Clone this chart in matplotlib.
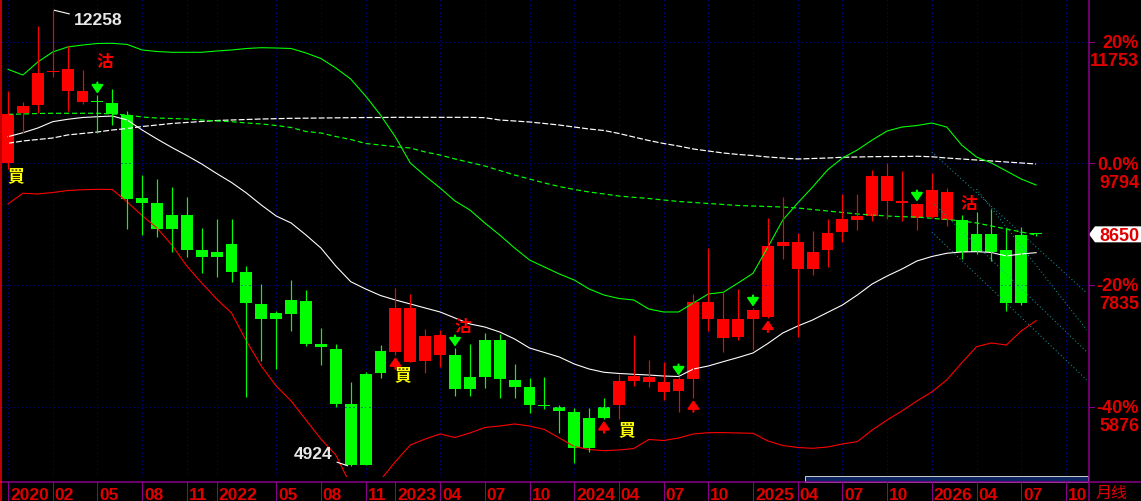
import numpy as np
import matplotlib
matplotlib.use('Agg')
import matplotlib.pyplot as plt
import matplotlib.transforms as mtransforms
from matplotlib.patches import Polygon, Rectangle
from matplotlib.lines import Line2D

# monthly bars, index 0 = 2020-11
opens = [9799, 10604, 10732, 11256, 10963, 10786, 10781, 10765, 10571, 9235,
         9155, 8961, 8961, 8398, 8371, 8495, 8039, 7529, 7389, 7593,
         7577, 6885, 6804, 5919, 6402, 6772, 6761, 6600, 6616, 6707,
         6707, 6353, 6949, 6949, 6305, 6192, 5902, 5870, 5790, 5693,
         5870, 5902, 6294, 6278, 6117, 6133, 6321, 7287, 6986, 7002,
         7282, 7324, 8467, 8097, 8097, 8403, 8693, 8881, 8950, 9187,
         9150, 8918, 8924, 8881, 8881, 8656, 8656, 8398, 8639, 8650]
highs = [10958, 10781, 12004, 12258, 11682, 11296, 10893, 10990, 10636, 9605,
         9541, 9412, 9251, 8752, 8897, 8897, 8140, 7851, 7416, 7915,
         7754, 7137, 6885, 6273, 6434, 6868, 7791, 7690, 7121, 7110,
         6820, 6885, 7057, 7046, 6563, 6342, 6358, 5902, 5849, 5859,
         6020, 6402, 7030, 6627, 6600, 6353, 7690, 8425, 7717, 7770,
         7464, 8913, 9251, 8667, 8704, 8892, 9304, 9304, 9686, 9794,
         9670, 9155, 9633, 9391, 8961, 9015, 9063, 8747, 8763, 8670]
lows = [9702, 10282, 10604, 11183, 10641, 10753, 10286, 10410, 8736, 8639,
        8600, 8366, 8285, 8032, 7963, 7888, 6036, 6616, 6477, 7099,
        6852, 6546, 5865, 4924, 4930, 6342, 6707, 6590, 6422, 6519,
        6047, 6047, 6181, 6010, 6010, 5778, 5833, 5457, 4964, 5151,
        5680, 5677, 6208, 6197, 5983, 5795, 6015, 7094, 6756, 6949,
        6788, 7300, 8248, 7002, 7995, 8129, 8532, 8720, 8865, 8902,
        8865, 8720, 8913, 8784, 8248, 8334, 8221, 7416, 7512, 8630]
closes = [10588, 10716, 11248, 11280, 11307, 10958, 10773, 10583, 9219, 9155,
          8736, 8736, 8398, 8280, 8280, 8049, 7540, 7287, 7287, 7372,
          6885, 6831, 5923, 4936, 4936, 6422, 7469, 7469, 7018, 7030,
          6155, 6155, 6358, 6326, 6197, 5907, 5880, 5811, 5215, 5215,
          5693, 6289, 6369, 6353, 6273, 6321, 7561, 7561, 7287, 7287,
          7432, 8462, 8527, 8527, 8366, 8672, 8897, 8950, 9589, 9589,
          9187, 9139, 9364, 9337, 8366, 8366, 8366, 7549, 7549, 8650]

# bollinger bands
upper = [11307, 11215, 11425, 11586, 11666, 11698, 11723, 11726, 11707, 11618,
         11594, 11581, 11581, 11581, 11602, 11618, 11642, 11655, 11650, 11642,
         11570, 11481, 11328, 11151, 10877, 10571, 10217, 9799, 9589, 9396,
         9187, 9042, 8833, 8639, 8430, 8237, 8124, 8012, 7915, 7770,
         7673, 7617, 7593, 7448, 7400, 7400, 7545, 7690, 7717, 7867,
         8023, 8446, 8881, 9155, 9412, 9686, 9879, 10008, 10169, 10314,
         10378, 10402, 10443, 10378, 10088, 9895, 9799, 9670, 9541, 9444]
mid = [10222, 10286, 10362, 10464, 10502, 10531, 10544, 10555, 10491, 10330,
       10185, 10048, 9919, 9783, 9630, 9485, 9316, 9122, 8945, 8833,
       8639, 8430, 8140, 7888, 7770, 7665, 7593, 7529, 7464, 7400,
       7303, 7207, 7158, 7078, 6965, 6820, 6748, 6675, 6563, 6482,
       6429, 6410, 6397, 6385, 6369, 6361, 6482, 6530, 6600, 6667,
       6740, 6893, 7062, 7174, 7271, 7392, 7512, 7673, 7851, 7979,
       8092, 8221, 8293, 8345, 8366, 8371, 8358, 8301, 8334, 8355]
lower = [9139, 9311, 9300, 9324, 9356, 9369, 9375, 9372, 9171, 8953,
         8752, 8478, 8140, 7867, 7609, 7384, 6933, 6530, 6208, 5967,
         5661, 5355, 5097, 4614, 4453, 4695, 4990, 5258, 5355, 5436,
         5379, 5452, 5540, 5564, 5597, 5564, 5508, 5371, 5234, 5186,
         5167, 5178, 5202, 5347, 5331, 5371, 5436, 5457, 5457, 5452,
         5447, 5323, 5250, 5218, 5205, 5226, 5275, 5312, 5500, 5661,
         5806, 5967, 6112, 6305, 6579, 6841, 6901, 6868, 7094, 7260]
# moving averages
ma_long = [10116, 10153, 10177, 10201, 10250, 10274, 10298, 10330, 10354, 10386,
           10410, 10435, 10451, 10467, 10483, 10491, 10499, 10507, 10512, 10518,
           10520, 10523, 10526, 10528, 10531, 10531, 10534, 10534, 10534, 10534,
           10534, 10534, 10528, 10491, 10475, 10459, 10435, 10410, 10378, 10346,
           10322, 10274, 10217, 10161, 10113, 10072, 10024, 9992, 9960, 9936,
           9919, 9895, 9879, 9863, 9871, 9879, 9891, 9895, 9900, 9903,
           9903, 9907, 9899, 9879, 9863, 9847, 9831, 9815, 9799, 9783]
ma_mid = [10583, 10588, 10596, 10599, 10599, 10599, 10599, 10588, 10571, 10539,
          10523, 10515, 10507, 10491, 10475, 10464, 10443, 10427, 10402, 10370,
          10306, 10282, 10225, 10177, 10113, 10088, 10061, 10040, 9976, 9927,
          9863, 9807, 9750, 9678, 9605, 9541, 9477, 9420, 9372, 9332,
          9300, 9267, 9246, 9227, 9203, 9179, 9163, 9147, 9131, 9114,
          9106, 9098, 9090, 9074, 9050, 9026, 9002, 8978, 8961, 8945,
          8934, 8929, 8908, 8889, 8865, 8833, 8784, 8736, 8688, 8639]

# trend channel lines (start idx, start price, end idx, end price)
channel = [(62.0, 9976, 72.4, 7706), (65.0, 9380, 72.4, 7110),
           (62.0, 9171, 72.4, 6756), (62.0, 8688, 72.4, 6305)]

sell_arrows = [6, 30, 45, 50, 61]
buy_arrows = [26, 40, 46, 51]
buy_labels = [(0.5, 9589), (26.5, 6377), (41.5, 5492)]
sell_labels = [(6.5, 11425), (30.5, 7166), (64.5, 9131)]

tick_idx = [0, 3, 6, 9, 12, 14, 18, 21, 24, 26, 29, 32, 35, 38, 41, 44, 47,
            50, 53, 56, 59, 62, 65, 68, 71]
tick_lab = ['2020', '02', '05', '08', '11', '2022', '05', '08', '11', '2023',
            '04', '07', '10', '2024', '04', '07', '10', '2025', '04', '07', '10',
            '2026', '04', '07', '10']
level_pct = ['20%', '0.0%', '-20%', '-40%']
level_price = [11753, 9794, 7835, 5876]
last_price = 8650
hi_mark, lo_mark = 12258, 4924

plt.rcParams['font.family'] = ['Liberation Sans', 'Noto Sans CJK TC', 'DejaVu Sans']
plt.rcParams['lines.scale_dashes'] = False

W, H = 1141, 501
def pt(p):
    return p * 0.72

RED = '#FF0000'
GREEN = '#00FF00'
TXT = '#E00000'
PURPLE = '#8B008B'
GRID = '#0000B4'

fig = plt.figure(figsize=(W / 100, H / 100), dpi=100, facecolor='black')
ax = fig.add_axes([1 / W, (H - 477) / H, 1088 / W, 477 / H])
ax.set_facecolor('black')
ax.set_xlim(-0.47, 72.55)
ax.set_ylim(4743, 12423)
ax.set_axis_off()

dots = (0, (pt(1), pt(3)))
for t in tick_idx:
    ax.axvline(t, color=GRID, lw=pt(1), ls=dots)
for lv in level_price:
    ax.axhline(lv, color=GRID, lw=pt(1), ls=dots)

idx = np.arange(len(upper))
ax.plot(idx, ma_long, color='white', lw=pt(1.2), ls=(0, (pt(6), pt(2))))
ax.plot(idx, ma_mid, color=GREEN, lw=pt(1.2), ls=(0, (pt(5), pt(3))))
ax.plot(idx, upper, color=GREEN, lw=pt(1.1))
ax.plot(idx, mid, color='white', lw=pt(1.1))
ax.plot(idx, lower, color=RED, lw=pt(1.1))

for x0, y0, x1, y1 in channel:
    ax.plot([x0, x1], [y0, y1], color='#16A0A0', lw=pt(1), ls=(0, (pt(1), pt(2.5))))

o = np.array(opens); c = np.array(closes)
hi = np.array(highs); lo = np.array(lows)
cidx = np.arange(len(o))
cols = np.where(c > o, RED, GREEN)
ax.vlines(cidx, lo, hi, colors=cols, lw=pt(1.2))
body_h = np.maximum(np.abs(c - o), 24)
ax.bar(cidx, body_h, bottom=np.minimum(o, c), width=0.8, color=cols, linewidth=0)

astyle = '-|>,head_width=0.35,head_length=0.5'
for i in sell_arrows:
    ax.annotate('', xy=(i, highs[i]), xytext=(0, 9), textcoords='offset points',
                arrowprops=dict(arrowstyle=astyle, color=GREEN, lw=1.5,
                                shrinkA=0, shrinkB=1, mutation_scale=10))
for i in buy_arrows:
    ax.annotate('', xy=(i, lows[i]), xytext=(0, -10), textcoords='offset points',
                arrowprops=dict(arrowstyle=astyle, color=RED, lw=1.5,
                                shrinkA=0, shrinkB=1.5, mutation_scale=10))

for x, y in buy_labels:
    ax.text(x, y, '買', color='#FFFF00', fontsize=12, fontweight='bold',
            family=['Noto Sans CJK TC'], ha='center', va='center')
for x, y in sell_labels:
    ax.text(x, y, '沽', color=RED, fontsize=12, fontweight='bold',
            family=['Noto Sans CJK TC'], ha='center', va='center')

ax.annotate(str(hi_mark), xy=(3.1, hi_mark), xytext=(4.4, 12090), color='#E8E8E8',
            fontsize=12.5, fontweight='bold', va='center', ha='left',
            arrowprops=dict(arrowstyle='-', color='white', lw=0.8, shrinkA=1, shrinkB=0))
ax.annotate(str(lo_mark), xy=(22.8, lo_mark), xytext=(21.8, 5106), color='#E8E8E8',
            fontsize=12.5, fontweight='bold', va='center', ha='right',
            arrowprops=dict(arrowstyle='-', color='white', lw=0.8, shrinkA=1, shrinkB=0))

# right axis
by = mtransforms.blended_transform_factory(ax.transAxes, ax.transData)
xr = 1 + 50 / 1088
for lab, lv in zip(level_pct, level_price):
    ax.add_line(Line2D([1.0, 1 + 5 / 1088], [lv, lv], transform=by, color=PURPLE,
                       lw=pt(1), clip_on=False))
    ax.text(xr, lv - 105, lab, transform=by, color=TXT, fontsize=13, fontweight='bold',
            ha='right', va='baseline')
    ax.text(xr, lv - 394, str(lv), transform=by, color=TXT, fontsize=13,
            fontweight='bold', ha='right', va='baseline')

d = 8 * 16.1
ax.add_patch(Polygon([(1.0, last_price), (1 + 6 / 1088, last_price + d),
                      (1 + 52 / 1088, last_price + d), (1 + 52 / 1088, last_price - d),
                      (1 + 6 / 1088, last_price - d)], closed=True, transform=by,
                     facecolor='white', edgecolor='none', clip_on=False))
ax.text(xr, last_price - 105, str(last_price), transform=by, color=TXT, fontsize=13,
        fontweight='bold', ha='right', va='baseline')

# bottom axis
bx = mtransforms.blended_transform_factory(ax.transData, fig.transFigure)
yl = (H - 482) / H
fig.add_artist(Line2D([0, 1], [yl, yl], transform=fig.transFigure, color=PURPLE, lw=pt(1.5)))
for t, lab in zip(tick_idx, tick_lab):
    fig.add_artist(Line2D([t, t], [0, yl], transform=bx, color=PURPLE, lw=pt(1)))
    ax.text(t + 0.13, 1.5 / H, lab, transform=bx, color=TXT, fontsize=12.5,
            fontweight='bold', ha='left', va='baseline')
fig.add_artist(Line2D([1089 / W] * 2, [0, 1], transform=fig.transFigure, color=PURPLE, lw=pt(1.5)))
fig.add_artist(Line2D([1 / W] * 2, [0, 1], transform=fig.transFigure, color=RED, lw=pt(1.5)))
fig.text(1096 / W, 3.5 / H, '月线', color=TXT, fontsize=11.5,
         family=['Noto Sans CJK SC'], ha='left', va='baseline')
fig.add_artist(Rectangle((805 / W, (H - 481.5) / H), (1088 - 805) / W, 6 / H,
                         transform=fig.transFigure, facecolor='#0C2460',
                         edgecolor='#C8C8C8', lw=pt(1)))

fig.savefig('out.png', dpi=100, facecolor='black')
